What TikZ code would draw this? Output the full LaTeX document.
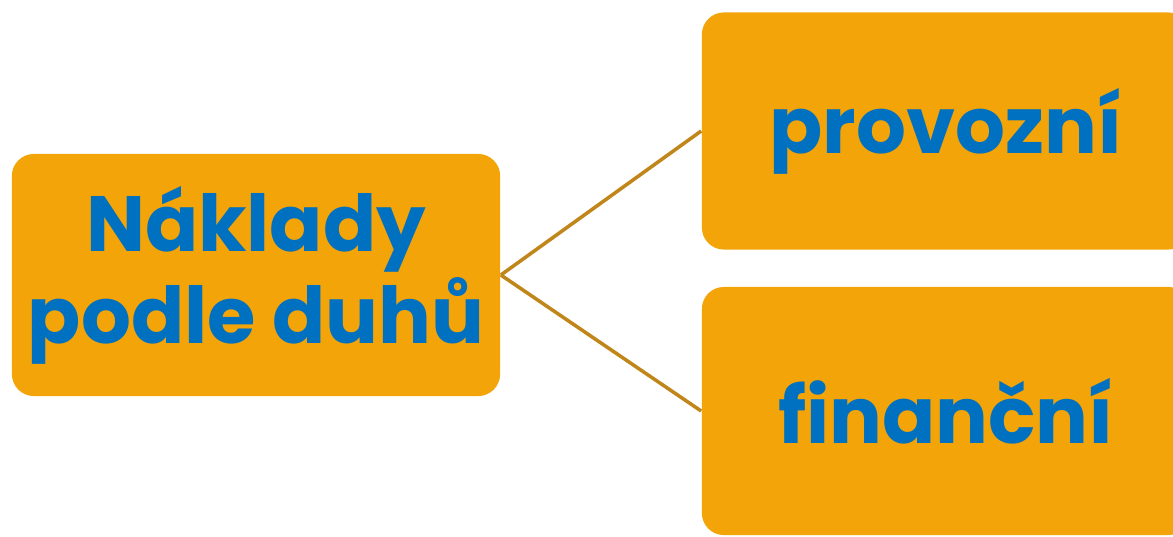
\documentclass[tikz,border=0pt]{standalone}
\usepackage{fontspec}
\setmainfont{Poppins}
\usepackage{tikz}
\usetikzlibrary{positioning}
\definecolor{boxorange}{HTML}{F3A409}
\definecolor{textblue}{HTML}{0070C0}
\definecolor{linegold}{HTML}{C0861A}
\tikzset{
kostka/.style={fill=boxorange, rounded corners=0.22cm, inner sep=0pt, align=center, text=textblue, font=\fontsize{22.3}{26.2}\selectfont\bfseries}, % sets the properties for each box
spoj/.style={draw=linegold, line width=1pt} % the lines between boxes
}
\begin{document}
\begin{tikzpicture}[x=0.01cm, y=-0.01cm]
        \useasboundingbox (0,0) rectangle (1173,536);
        \node [kostka, minimum width=4.88cm, minimum height=2.42cm] (naklady) at (256,275) {Náklady\\podle duhů};
        \node [kostka, minimum width=4.88cm, minimum height=2.37cm] (provozni) at (946,131) {provozní};
        \node [kostka, minimum width=4.88cm, minimum height=2.48cm] (financni) at (946,411) {finanční};
        \draw [spoj] (naklady.east) -- (provozni.west);
        \draw [spoj] (naklady.east) -- (financni.west);
\end{tikzpicture}
\end{document}
